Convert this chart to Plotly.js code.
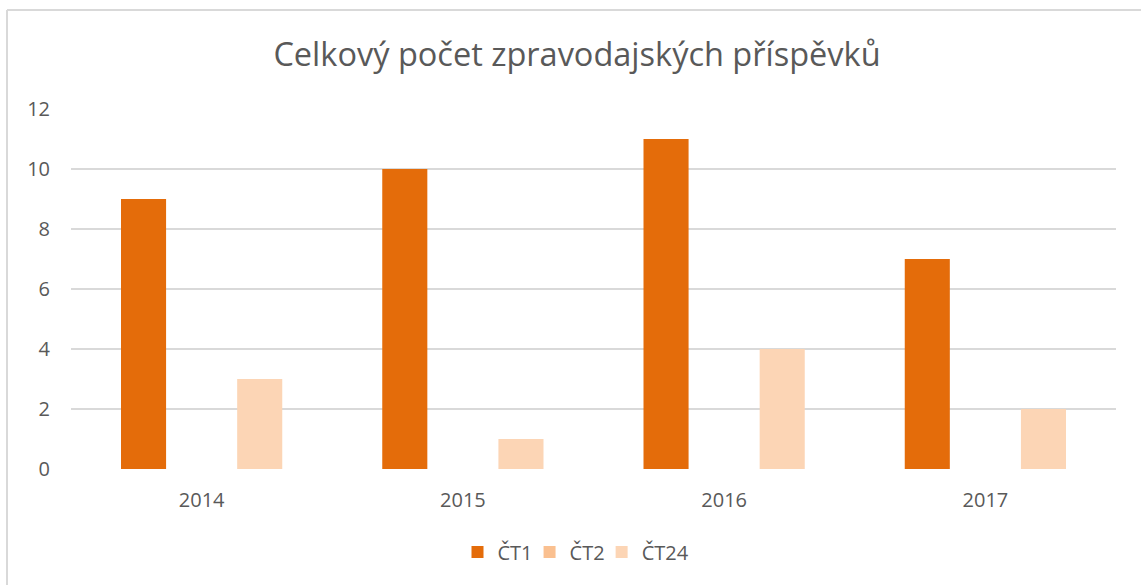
<!DOCTYPE html>
<html>
<head>
<meta charset="utf-8">
<script src="https://cdn.plot.ly/plotly-3.0.1.min.js"></script>
<style>
html,body{margin:0;padding:0;background:#fff;}
#chart{width:1141px;height:585px;}
</style>
</head>
<body>
<div id="chart"></div>
<script>
const years = ['2014', '2015', '2016', '2017'];
const ct1 = [9, 10, 11, 7];
const ct2 = [0, 0, 0, 0];
const ct24 = [3, 1, 4, 2];
const seriesNames = ['ČT1', 'ČT2', 'ČT24'];
const seriesColors = ['#E46C0A', '#FAC090', '#FCD5B5'];
const yTicks = [0, 2, 4, 6, 8, 10, 12];

const font = 'Open Sans, Noto Sans, sans-serif';
const txt = '#595959';

const traces = [ct1, ct2, ct24].map((vals, i) => ({
  type: 'bar',
  name: seriesNames[i],
  x: years,
  y: vals,
  marker: {color: seriesColors[i], line: {width: 0}},
  hoverinfo: 'x+y+name'
}));

const W = 1141, H = 585;
const L = 71, R = 25, T = 109, B = 116;
const pw = W - L - R, ph = H - T - B;
const px = v => (v - L) / pw;
const py = v => (H - B - v) / ph;

const layout = {
  width: W, height: H,
  margin: {l: L, r: R, t: T, b: B, pad: 0},
  paper_bgcolor: '#ffffff',
  plot_bgcolor: '#ffffff',
  font: {family: font, color: txt, size: 20},
  title: {
    text: 'Celkový počet zpravodajských příspěvků',
    font: {family: font, size: 32.5, color: txt},
    x: 577 / W, xanchor: 'center',
    y: 1 - 55 / H, yanchor: 'middle', yref: 'container'
  },
  barmode: 'group',
  bargap: 0.333,
  bargroupgap: 0.224,
  xaxis: {
    type: 'category',
    showgrid: false,
    zeroline: false,
    showline: false,
    ticks: '',
    ticklabelstandoff: 17,
    tickfont: {family: font, size: 20, color: txt},
    fixedrange: true
  },
  yaxis: {
    range: [0, 12],
    tickvals: yTicks,
    showgrid: true,
    gridcolor: '#D9D9D9',
    gridwidth: 1.5,
    zeroline: false,
    showline: false,
    ticks: '',
    ticklabelstandoff: 20,
    tickfont: {family: font, size: 20, color: txt},
    fixedrange: true
  },
  showlegend: true,
  legend: {
    orientation: 'h',
    x: px(580), xanchor: 'center',
    y: py(552), yanchor: 'middle',
    font: {family: font, size: 20, color: txt},
    bgcolor: 'rgba(0,0,0,0)',
    indentation: -8,
    traceorder: 'normal'
  },
  shapes: [
    {type: 'line', xref: 'paper', yref: 'paper', x0: px(7), x1: px(1145), y0: py(10), y1: py(10),
     line: {color: '#D9D9D9', width: 2}},
    {type: 'line', xref: 'paper', yref: 'paper', x0: px(7), x1: px(7), y0: py(10), y1: py(590),
     line: {color: '#D9D9D9', width: 2}}
  ]
};

Plotly.newPlot('chart', traces, layout, {displayModeBar: false, staticPlot: true});
</script>
</body>
</html>
